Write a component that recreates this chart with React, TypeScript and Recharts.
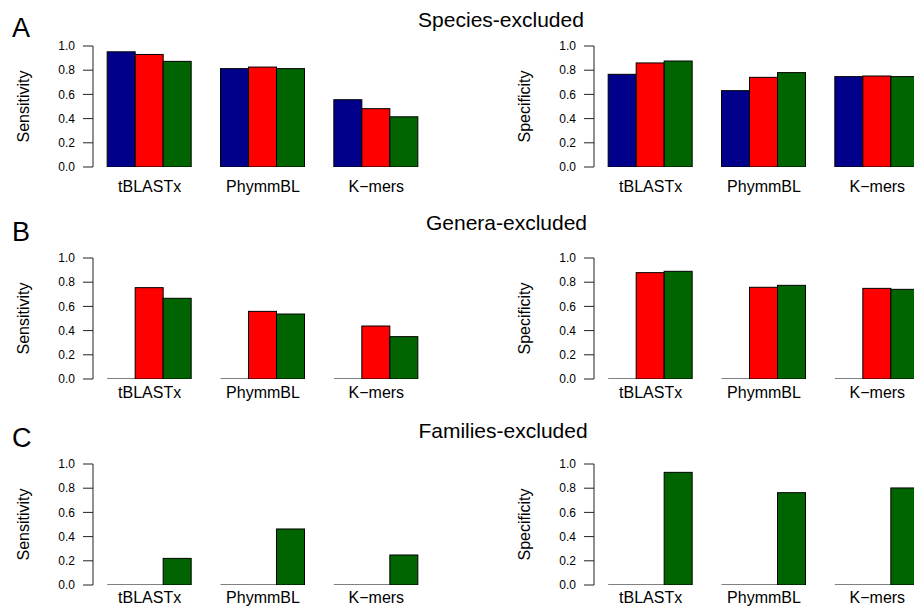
import React from 'react';
import { BarChart, Bar, XAxis, YAxis } from 'recharts';

// Categories and ticks
const methods = ['tBLASTx', 'PhymmBL', 'K\u2212mers'];
const yTicks = [0, 0.2, 0.4, 0.6, 0.8, 1.0];
const panelTitles = ['Species-excluded', 'Genera-excluded', 'Families-excluded'];
const panelLetters = ['A', 'B', 'C'];

// Row A: species excluded
const speciesSensitivityBlue = [0.952, 0.813, 0.556];
const speciesSensitivityRed = [0.93, 0.826, 0.482];
const speciesSensitivityGreen = [0.873, 0.813, 0.415];
const speciesSpecificityBlue = [0.766, 0.631, 0.747];
const speciesSpecificityRed = [0.86, 0.741, 0.752];
const speciesSpecificityGreen = [0.876, 0.78, 0.747];

// Row B: genera excluded
const generaSensitivityBlue = [0, 0, 0];
const generaSensitivityRed = [0.755, 0.559, 0.438];
const generaSensitivityGreen = [0.667, 0.537, 0.35];
const generaSpecificityBlue = [0, 0, 0];
const generaSpecificityRed = [0.879, 0.758, 0.749];
const generaSpecificityGreen = [0.89, 0.774, 0.741];

// Row C: families excluded
const familiesSensitivityBlue = [0, 0, 0];
const familiesSensitivityRed = [0, 0, 0];
const familiesSensitivityGreen = [0.22, 0.463, 0.248];
const familiesSpecificityBlue = [0, 0, 0];
const familiesSpecificityRed = [0, 0, 0];
const familiesSpecificityGreen = [0.931, 0.763, 0.802];

const FONT = '"Liberation Sans", Arial, Helvetica, sans-serif';
const COLORS = { blue: '#00008B', red: '#FF0000', green: '#006400' };

function buildRows(blue: number[], red: number[], green: number[]) {
  return methods.map((m, i) => ({ method: m, blue: blue[i], red: red[i], green: green[i] }));
}

const BarShape = (props: any) => {
  const { x, y, width, height, fill } = props;
  if (!height || Math.abs(height) < 0.01) {
    return <line x1={x} x2={x + width} y1={y} y2={y} stroke="#000" strokeWidth={1} />;
  }
  return <rect x={x} y={y} width={width} height={height} fill={fill} stroke="#000" strokeWidth={1} />;
};

const ROW_TOPS = [46, 258, 464];
const ROW_LABEL_GAP = [14, 8, 7];
const COL_LEFTS = [0, 501];
const PLOT_H = 121;
const PLOT_W = 340;
const TOP_M = 10;
const X_AXIS_H = 40;
const Y_AXIS_W = 80;
const LEFT_M = 13;

function Panel({ data, ylabel, left, top, labelGap }: { data: any[]; ylabel: string; left: number; top: number; labelGap: number }) {
  const width = LEFT_M + Y_AXIS_W + PLOT_W + 17;
  const height = TOP_M + PLOT_H + X_AXIS_H;
  return (
    <div style={{ position: 'absolute', left, top: top - TOP_M, width, height }}>
      <BarChart
        width={width}
        height={height}
        data={data}
        margin={{ top: TOP_M, right: 17, bottom: 0, left: LEFT_M }}
        barCategoryGap="12.5%"
        barGap={0}
      >
        <XAxis
          dataKey="method"
          axisLine={false}
          tickLine={false}
          tickSize={0}
          tickMargin={labelGap}
          height={X_AXIS_H}
          interval={0}
          tick={{ fontSize: 16, fill: '#000', fontFamily: FONT }}
        />
        <YAxis
          domain={[0, 1]}
          ticks={yTicks}
          interval={0}
          allowDataOverflow
          width={Y_AXIS_W}
          tickSize={10}
          tickMargin={8}
          tickFormatter={(v: number) => v.toFixed(1)}
          tick={{ fontSize: 12, fill: '#000', fontFamily: FONT }}
          axisLine={{ stroke: '#222', strokeWidth: 1 }}
          tickLine={{ stroke: '#222', strokeWidth: 1 }}
          label={{
            value: ylabel,
            angle: -90,
            position: 'insideLeft',
            offset: 10.5,
            style: { textAnchor: 'middle', fontSize: 16, fill: '#000', fontFamily: FONT },
          }}
        />
        <Bar dataKey="blue" fill={COLORS.blue} isAnimationActive={false} shape={BarShape} />
        <Bar dataKey="red" fill={COLORS.red} isAnimationActive={false} shape={BarShape} />
        <Bar dataKey="green" fill={COLORS.green} isAnimationActive={false} shape={BarShape} />
      </BarChart>
    </div>
  );
}

const rowsData = [
  [
    buildRows(speciesSensitivityBlue, speciesSensitivityRed, speciesSensitivityGreen),
    buildRows(speciesSpecificityBlue, speciesSpecificityRed, speciesSpecificityGreen),
  ],
  [
    buildRows(generaSensitivityBlue, generaSensitivityRed, generaSensitivityGreen),
    buildRows(generaSpecificityBlue, generaSpecificityRed, generaSpecificityGreen),
  ],
  [
    buildRows(familiesSensitivityBlue, familiesSensitivityRed, familiesSensitivityGreen),
    buildRows(familiesSpecificityBlue, familiesSpecificityRed, familiesSpecificityGreen),
  ],
];

const TITLE_X = [501, 506.5, 503];
const TITLE_BASE = [26.7, 230, 438.3];
const LETTER_BASE = [37.3, 240.7, 447.3];

export default function App() {
  return (
    <div
      style={{
        position: 'fixed',
        left: 0,
        top: 0,
        width: 914,
        height: 609,
        overflow: 'hidden',
        background: '#fff',
      }}
    >
      <svg width={914} height={609} style={{ position: 'absolute', left: 0, top: 0 }}>
        {panelTitles.map((t, i) => (
          <text key={t} x={TITLE_X[i]} y={TITLE_BASE[i]} textAnchor="middle" fontSize={21} fontFamily={FONT} fill="#000">
            {t}
          </text>
        ))}
        {panelLetters.map((l, i) => (
          <text key={l} x={12} y={LETTER_BASE[i]} fontSize={27} fontFamily={FONT} fill="#000">
            {l}
          </text>
        ))}
      </svg>
      {rowsData.map((row, r) =>
        row.map((data, c) => (
          <Panel
            key={`${r}-${c}`}
            data={data}
            ylabel={c === 0 ? 'Sensitivity' : 'Specificity'}
            left={COL_LEFTS[c]}
            top={ROW_TOPS[r]}
            labelGap={ROW_LABEL_GAP[r]}
          />
        ))
      )}
    </div>
  );
}
